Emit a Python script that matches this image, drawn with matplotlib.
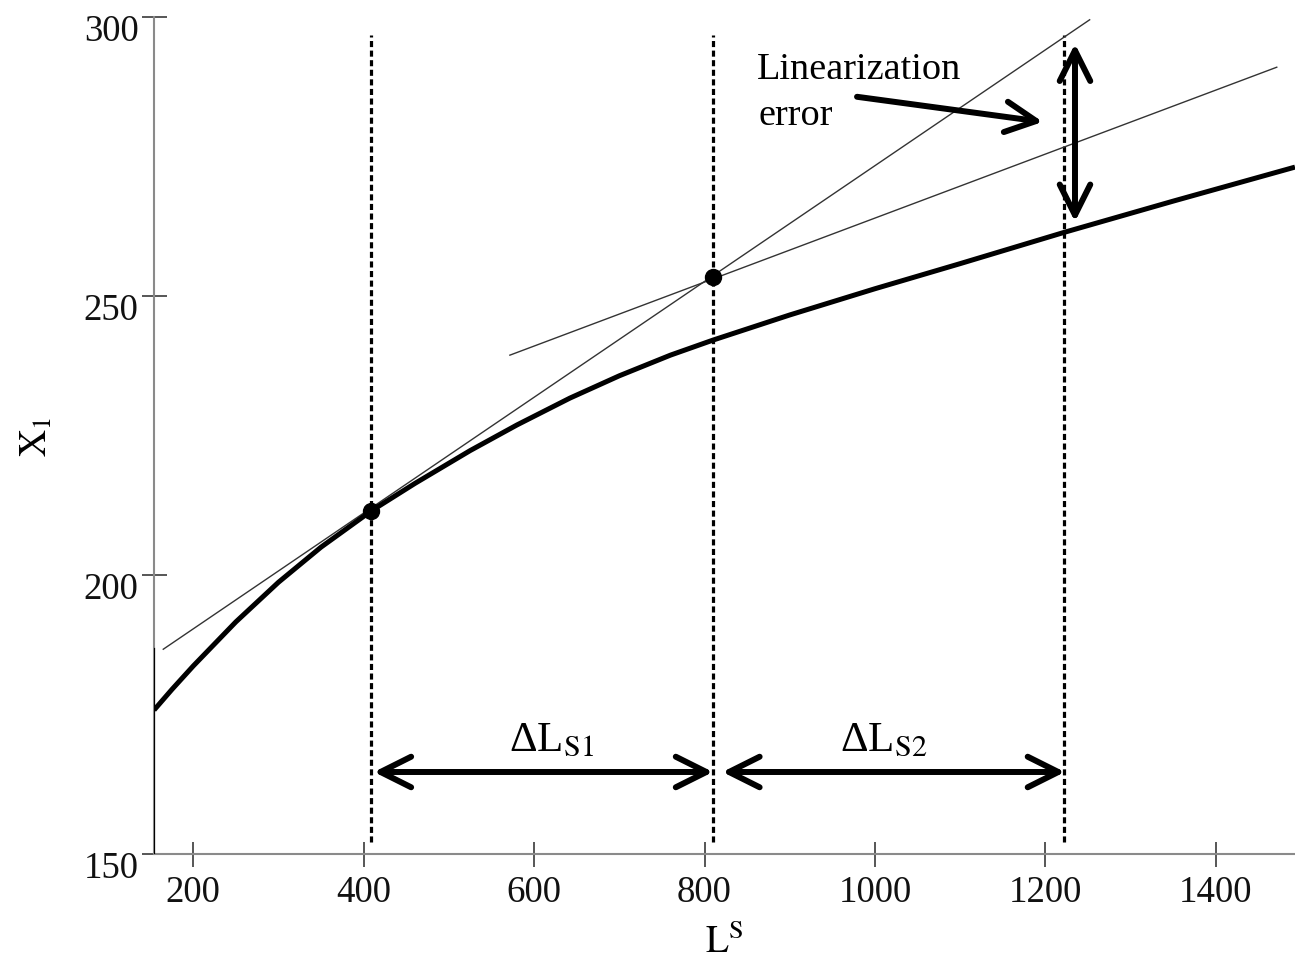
"""
Linearization error of X1 versus L^S
"""
import matplotlib
matplotlib.use("Agg")
from matplotlib import pyplot as plt
from matplotlib.transforms import ScaledTranslation

plt.rcParams['font.family'] = ['Liberation Serif', 'DejaVu Serif']
plt.rcParams['mathtext.fontset'] = 'stix'

# nonlinear response X1(L^S)
ls_curve = [154, 175, 200, 250, 300, 350, 409, 460, 525, 580, 642, 700,
            760, 810, 900, 1000, 1100, 1222, 1350, 1493]
x1_curve = [175.8, 179.5, 183.7, 191.6, 198.7, 205.0, 211.5, 216.4, 222.3,
            226.9, 231.7, 235.7, 239.4, 242.1, 246.6, 251.3, 255.8, 261.4,
            267.0, 273.1]

# two linearizations (thin lines)
tan1_ls, tan1_x1 = [164.8, 1252.0], [186.7, 299.5]
tan2_ls, tan2_x1 = [571.6, 1471.6], [239.4, 291.0]

# linearization points
pts_ls = [408.9, 810.0]
pts_x1 = [211.5, 253.4]

# operating points (dashed verticals)
vline_ls = [408.9, 810.0, 1222.0]
vline_x1 = (152.2, 296.8)

# step arrows
step_y = 164.7
step_ranges = [(412.0, 810.0), (821.0, 1223.0)]
step_labels = [u'\u0394L$_{\\mathrm{S1}}$', u'\u0394L$_{\\mathrm{S2}}$']
step_label_x = [620.0, 1010.0]
step_label_y = 168.6

# error arrow
err_ls = 1234.8
err_x1 = (263.3, 295.2)
note_tail = (979.0, 285.7)
note_head = (1197.0, 281.2)

xlim = (153.9, 1493.0)
ylim = (150, 300)
xticks = [200, 400, 600, 800, 1000, 1200, 1400]
yticks = [150, 200, 250, 300]


def arrow(ax, start, end, style):
    ax.annotate('', xy=end, xytext=start,
                arrowprops=dict(arrowstyle=style + ',head_length=1.1,head_width=0.55',
                                lw=4.3, color='k', shrinkA=0, shrinkB=0,
                                mutation_scale=20, capstyle='round',
                                joinstyle='round'))


def make_plot():
    fig = plt.figure(figsize=(12.95, 9.62), dpi=100)
    ax = fig.add_axes([0.1189, 0.1112, 0.8811, 0.8701])

    ax.plot(ls_curve, x1_curve, color='k', lw=3.6, solid_capstyle='butt',
            solid_joinstyle='round', zorder=4)
    ax.plot(tan1_ls, tan1_x1, color='#333333', lw=1.0, zorder=3)
    ax.plot(tan2_ls, tan2_x1, color='#333333', lw=1.0, zorder=3)
    for x in vline_ls:
        ax.plot([x, x], vline_x1, color='k', lw=2.3, dashes=(1.9, 1.1), zorder=2)
    ax.plot(pts_ls, pts_x1, 'o', color='k', ms=11.5, zorder=6)

    for (a, b) in step_ranges:
        arrow(ax, (a, step_y), (b, step_y), '<->')
    for x, lab in zip(step_label_x, step_labels):
        ax.text(x, step_label_y, lab, fontsize=31, ha='center', va='baseline')

    arrow(ax, (err_ls, err_x1[0]), (err_ls, err_x1[1]), '<->')
    arrow(ax, note_tail, note_head, '->')
    ax.text(861.6, 289.1, 'Linearization', fontsize=27.5, ha='left', va='baseline')
    ax.text(863.0, 280.8, 'error', fontsize=27.5, ha='left', va='baseline')

    # dark segment of the y axis under the first linearization
    ax.axvline(xlim[0], ymin=0, ymax=(tan1_x1[0] - ylim[0]) / (ylim[1] - ylim[0]),
               color='k', lw=1.6, zorder=5)

    ax.set_xlim(*xlim)
    ax.set_ylim(*ylim)
    ax.set_xticks(xticks)
    ax.set_yticks(yticks)
    for side in ('top', 'right'):
        ax.spines[side].set_visible(False)
    for side in ('left', 'bottom'):
        ax.spines[side].set_color('#8a8a8a')
        ax.spines[side].set_linewidth(1.5)
    ax.tick_params(direction='inout', length=18, width=1.2, color='#3a3a3a',
                   labelsize=26.5, labelcolor='#111111')
    ax.tick_params(axis='x', pad=6)
    ax.tick_params(axis='y', pad=2)
    shift = ScaledTranslation(0, -0.1, fig.dpi_scale_trans)
    for lab in ax.get_yticklabels():
        lab.set_transform(lab.get_transform() + shift)

    ax.set_xlabel(r'$\mathrm{L}^{\mathrm{S}}$', fontsize=27)
    ax.xaxis.set_label_coords(0.5, -0.083)
    ax.set_ylabel(r'$\mathrm{X}_{1}$', fontsize=27)
    ax.yaxis.set_label_coords(-0.087, 0.5)

    fig.savefig('out.png', dpi=100)


if __name__ == '__main__':
    make_plot()
